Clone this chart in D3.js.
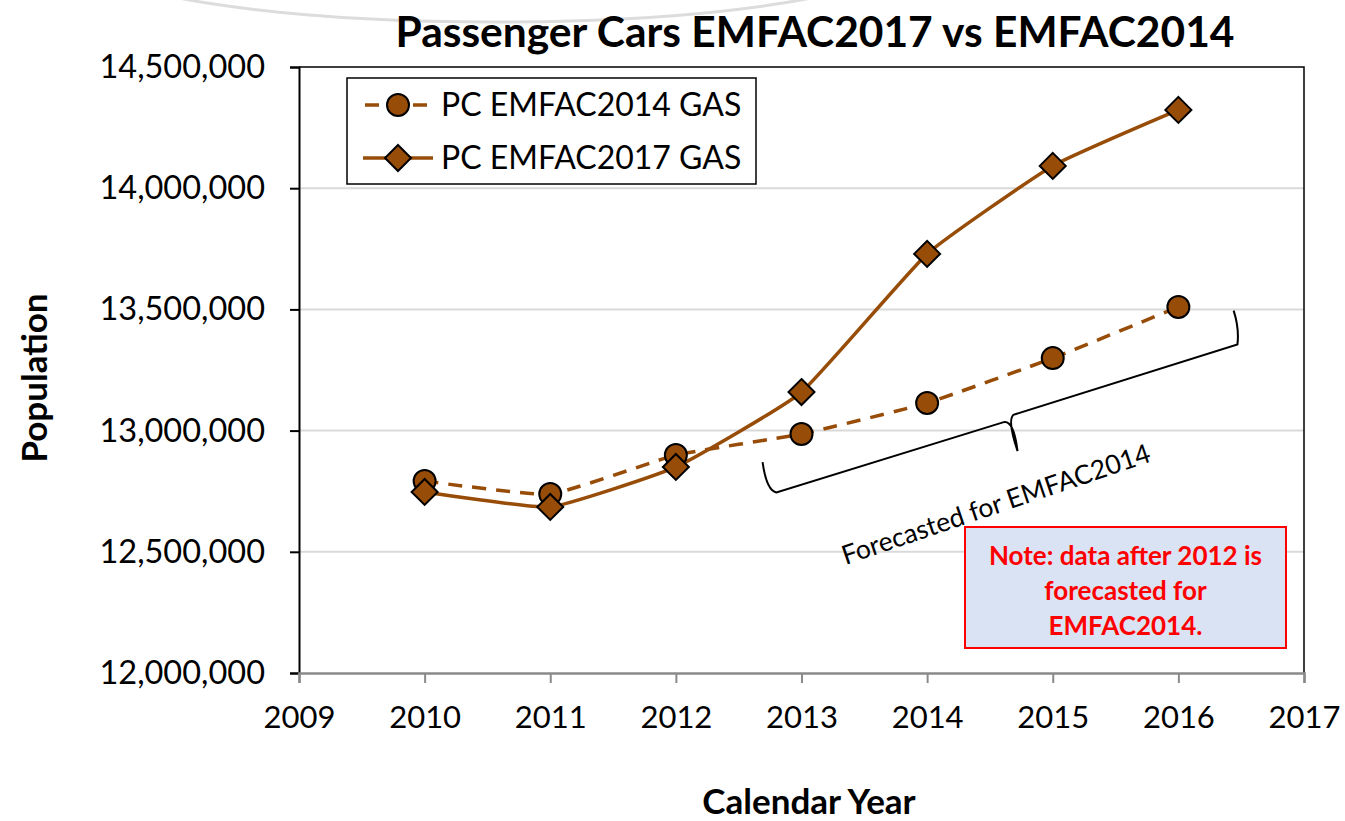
<!DOCTYPE html>
<html>
<head>
<meta charset="utf-8">
<script src="https://cdn.jsdelivr.net/npm/d3@7"></script>
<style>
  body { margin: 0; background: #fff; }
  svg { display: block; font-family: Lato, "Open Sans", sans-serif; }
</style>
</head>
<body>
<div id="chart"></div>
<script>
// ---- data ----
const years = [2010, 2011, 2012, 2013, 2014, 2015, 2016];
const emfac2014 = [12792000, 12738000, 12899000, 12986000, 13114000, 13299000, 13510000];
const emfac2017 = [12747000, 12685000, 12850000, 13159000, 13729000, 14092000, 14323000];
const seriesNames = ["PC EMFAC2014 GAS", "PC EMFAC2017 GAS"];
const xTicks = [2009, 2010, 2011, 2012, 2013, 2014, 2015, 2016, 2017];
const yTicks = [12000000, 12500000, 13000000, 13500000, 14000000, 14500000];
const noteLines = ["Note: data after 2012 is", "forecasted for", "EMFAC2014."];

const width = 1345, height = 821;
const margin = { top: 67, right: 41, bottom: 148, left: 299 };
const brown = "#974c08";
const font = 'Lato, "Open Sans", sans-serif';

const svg = d3.select("#chart").append("svg")
    .attr("width", width)
    .attr("height", height);

// faint slide decoration at the very top
svg.append("ellipse")
    .attr("cx", 495).attr("cy", -40)
    .attr("rx", 400).attr("ry", 62)
    .style("fill", "none")
    .style("stroke", "#dcdcdc")
    .style("stroke-width", 3);

const x = d3.scaleLinear()
    .domain([2009, 2017])
    .range([margin.left, width - margin.right]);
const y = d3.scaleLinear()
    .domain([12000000, 14500000])
    .range([height - margin.bottom, margin.top]);

// gridlines
svg.append("g")
    .selectAll("line")
    .data(yTicks.slice(1, -1))
    .enter()
    .append("line")
    .attr("x1", x(2009)).attr("x2", x(2017))
    .attr("y1", d => y(d)).attr("y2", d => y(d))
    .style("stroke", "#d9d9d9")
    .style("stroke-width", 2);

// plot border (top + right)
svg.append("path")
    .attr("d", `M${x(2009)},${y(14500000)}H${x(2017)}V${y(12000000)}`)
    .style("fill", "none")
    .style("stroke", "#000")
    .style("stroke-width", 1.5);

// y axis
const yAxis = svg.append("g")
    .attr("transform", `translate(${x(2009)},0)`)
    .call(d3.axisLeft(y).tickValues(yTicks).tickSize(9).tickPadding(25)
        .tickFormat(d3.format(",")));
yAxis.select(".domain").style("stroke", "#000").style("stroke-width", 2);
yAxis.selectAll(".tick line").style("stroke", "#000").style("stroke-width", 2);
yAxis.selectAll("text")
    .style("font-size", "32.5px")
    .style("font-family", font)
    .style("fill", "#000");

// x axis
const xAxis = svg.append("g")
    .attr("transform", `translate(0,${y(12000000)})`)
    .call(d3.axisBottom(x).tickValues(xTicks).tickSize(10).tickPadding(23)
        .tickFormat(d3.format("d")));
xAxis.select(".domain").style("stroke", "#8a8a8a").style("stroke-width", 2.5);
xAxis.selectAll(".tick line").style("stroke", "#8a8a8a").style("stroke-width", 2);
xAxis.selectAll("text")
    .style("font-size", "31px")
    .style("font-family", font)
    .style("fill", "#000");

// lines (Excel-style smoothing)
const line = d3.line()
    .x(d => x(d[0]))
    .y(d => y(d[1]))
    .curve(d3.curveCardinal.tension(0.6));

const pts2014 = years.map((yr, i) => [yr, emfac2014[i]]);
const pts2017 = years.map((yr, i) => [yr, emfac2017[i]]);

svg.append("path")
    .attr("d", line(pts2014))
    .style("fill", "none")
    .style("stroke", brown)
    .style("stroke-width", 3.5)
    .style("stroke-dasharray", "14,10");

svg.append("path")
    .attr("d", line(pts2017))
    .style("fill", "none")
    .style("stroke", brown)
    .style("stroke-width", 3.5);

// markers
const diamond = s => `M0,${-s}L${s},0L0,${s}L${-s},0Z`;

svg.append("g")
    .selectAll("circle")
    .data(pts2014)
    .enter()
    .append("circle")
    .attr("cx", d => x(d[0]))
    .attr("cy", d => y(d[1]))
    .attr("r", 11)
    .style("fill", brown)
    .style("stroke", "#000")
    .style("stroke-width", 2);

svg.append("g")
    .selectAll("path")
    .data(pts2017)
    .enter()
    .append("path")
    .attr("transform", d => `translate(${x(d[0])},${y(d[1])})`)
    .attr("d", diamond(13))
    .style("fill", brown)
    .style("stroke", "#000")
    .style("stroke-width", 2);

// legend
const legend = svg.append("g").attr("transform", "translate(347,78)");
legend.append("rect")
    .attr("width", 409).attr("height", 106)
    .style("fill", "#fff")
    .style("stroke", "#000")
    .style("stroke-width", 1.5);

seriesNames.forEach((name, i) => {
    const ly = 27 + i * 53;
    const g = legend.append("g").attr("transform", `translate(0,${ly})`);
    g.append("line")
        .attr("x1", 16).attr("x2", 86)
        .style("stroke", brown)
        .style("stroke-width", 3.5)
        .style("stroke-dasharray", i === 0 ? "14,10" : null)
        .style("stroke-dashoffset", i === 0 ? -2 : null);
    if (i === 0) {
        g.append("circle").attr("cx", 51).attr("r", 11)
            .style("fill", brown).style("stroke", "#000").style("stroke-width", 2);
    } else {
        g.append("path").attr("transform", "translate(51,0)").attr("d", diamond(13))
            .style("fill", brown).style("stroke", "#000").style("stroke-width", 2);
    }
    g.append("text")
        .attr("x", 94).attr("y", 11)
        .text(name)
        .style("font-size", "32px")
        .style("fill", "#000");
});

// brace annotation (anchored in data space)
const b = (yr, v) => [x(yr), y(v)];
const p1 = b(2012.69, 12870000), p2 = b(2012.80, 12745000);
const p3 = b(2014.61, 13035000), p4 = b(2014.72, 12915000);
const p5 = b(2014.67, 13065000), p6 = b(2016.47, 13355000);
const p7 = b(2016.44, 13495000);
const brace = d3.path();
brace.moveTo(p1[0], p1[1]);
brace.quadraticCurveTo(p1[0] + 4, p2[1] - 2, p2[0], p2[1]);
brace.lineTo(p3[0], p3[1]);
brace.quadraticCurveTo(p3[0] + 10, p3[1] - 2, p4[0], p4[1]);
brace.moveTo(p4[0], p4[1]);
brace.quadraticCurveTo(p5[0] - 4, p5[1] + 6, p5[0] + 2, p5[1]);
brace.lineTo(p6[0], p6[1]);
brace.quadraticCurveTo(p6[0] + 2, p7[1] + 18, p7[0], p7[1]);
svg.append("path")
    .attr("d", brace.toString())
    .style("fill", "none")
    .style("stroke", "#000")
    .style("stroke-width", 2);

const fc = b(2013.35, 12446000);
svg.append("text")
    .attr("transform", `translate(${fc[0]},${fc[1]}) rotate(-18.7)`)
    .text("Forecasted for EMFAC2014")
    .style("font-size", "26.5px")
    .style("fill", "#000");

// note box
const note = svg.append("g").attr("transform", "translate(965,527)");
note.append("rect")
    .attr("width", 321).attr("height", 121)
    .style("fill", "#dae3f3")
    .style("stroke", "#ff0000")
    .style("stroke-width", 2);
note.selectAll("text")
    .data(noteLines)
    .enter()
    .append("text")
    .attr("x", 160.5)
    .attr("y", (d, i) => 38 + i * 35)
    .attr("text-anchor", "middle")
    .text(d => d)
    .style("font-size", "26px")
    .style("font-weight", "bold")
    .style("fill", "#ff0000");

// titles
svg.append("text")
    .attr("x", 815).attr("y", 47)
    .attr("text-anchor", "middle")
    .text("Passenger Cars EMFAC2017 vs EMFAC2014")
    .style("font-size", "42.5px")
    .style("font-weight", "bold");

svg.append("text")
    .attr("transform", "translate(47,378) rotate(-90)")
    .attr("text-anchor", "middle")
    .text("Population")
    .style("font-size", "35px")
    .style("font-weight", "bold");

svg.append("text")
    .attr("x", 809).attr("y", 814)
    .attr("text-anchor", "middle")
    .text("Calendar Year")
    .style("font-size", "35px")
    .style("font-weight", "bold");
</script>
</body>
</html>
